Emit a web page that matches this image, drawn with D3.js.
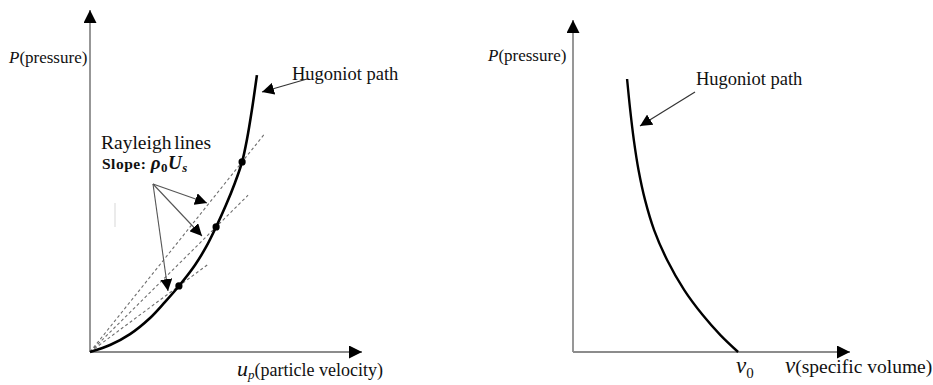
<!DOCTYPE html>
<html>
<head>
<meta charset="utf-8">
<script src="https://cdn.jsdelivr.net/npm/d3@7/dist/d3.min.js"></script>
<style>
  html, body { margin: 0; padding: 0; background: #fff; }
  svg { display: block; }
</style>
</head>
<body>
<svg id="chart" width="933" height="385"></svg>
<script>
// Hugoniot in the P–up plane (arbitrary units)
const upCurve = [0, 0.77, 1.54, 2.31, 2.88, 3.42, 4.04, 4.46, 4.85, 5.23, 5.58, 5.85, 6.04, 6.23, 6.42];
const pCurveUp = [0, 0.27, 0.69, 1.31, 1.92, 2.54, 3.35, 4.03, 4.81, 5.65, 6.52, 7.31, 8.19, 9.33, 10.65];

// Shocked states marked on the Hugoniot, and how far each Rayleigh line runs
const stateUp = [3.42, 4.85, 5.85];
const stateP = [2.54, 4.81, 7.31];
const rayEndUp = [4.54, 6.08, 6.73];

// Hugoniot in the P–v plane
const vCurve = [2.08, 2.2, 2.34, 2.52, 2.77, 3.12, 3.62, 4.28, 4.99, 5.67, 6.35];
const pCurveV = [10.5, 9.31, 8.15, 7.0, 5.85, 4.69, 3.54, 2.38, 1.42, 0.65, 0];
const v0 = 6.35;

const SERIF = "'Liberation Serif', 'Times New Roman', serif";
const svg = d3.select("#chart");

// arrowhead markers
const defs = svg.append("defs");
function marker(id, size) {
  defs.append("marker")
    .attr("id", id)
    .attr("viewBox", "0 0 10 10")
    .attr("refX", 10).attr("refY", 5)
    .attr("markerUnits", "userSpaceOnUse")
    .attr("markerWidth", size).attr("markerHeight", size)
    .attr("orient", "auto")
    .append("path").attr("d", "M0,0 L10,5 L0,10 Z").attr("fill", "#000");
}
marker("axisHead", 13);
marker("pointer", 12);

// text helper: parts = [[string, {attrs}], ...]
function label(g, x, y, size, parts) {
  const t = g.append("text")
    .attr("x", x).attr("y", y)
    .attr("font-family", SERIF).attr("font-size", size)
    .attr("fill", "#111");
  parts.forEach(([s, a]) => {
    const ts = t.append("tspan").text(s);
    Object.entries(a || {}).forEach(([k, v]) => ts.attr(k, v));
  });
  return t;
}

// ---------- left panel: P vs up ----------
const xL = d3.scaleLinear().domain([0, 10]).range([90, 350]);
const yL = d3.scaleLinear().domain([0, 12]).range([352, 40]);
const gL = svg.append("g");

gL.append("line")
  .attr("x1", xL(0)).attr("y1", yL(0)).attr("x2", xL(0)).attr("y2", 10)
  .attr("stroke", "#8c8c8c").attr("stroke-width", 1.8)
  .attr("marker-end", "url(#axisHead)");
gL.append("line")
  .attr("x1", xL(0)).attr("y1", yL(0)).attr("x2", 362).attr("y2", yL(0))
  .attr("stroke", "#8c8c8c").attr("stroke-width", 1.8)
  .attr("marker-end", "url(#axisHead)");

// Rayleigh lines from the origin through each state
gL.selectAll("line.ray")
  .data(stateUp.map((u, i) => ({ u, p: stateP[i], end: rayEndUp[i] })))
  .join("line").attr("class", "ray")
  .attr("x1", xL(0)).attr("y1", yL(0))
  .attr("x2", d => xL(d.end)).attr("y2", d => yL(d.p / d.u * d.end))
  .attr("stroke", "#6e6e6e").attr("stroke-width", 1.1)
  .attr("stroke-dasharray", "3,2.5");

const hugL = d3.line()
  .x((d, i) => xL(upCurve[i])).y(d => yL(d))
  .curve(d3.curveCatmullRom.alpha(0.5));
gL.append("path").attr("d", hugL(pCurveUp))
  .attr("fill", "none").attr("stroke", "#000").attr("stroke-width", 2.6);

gL.selectAll("circle.state")
  .data(stateUp)
  .join("circle").attr("class", "state")
  .attr("cx", d => xL(d)).attr("cy", (d, i) => yL(stateP[i]))
  .attr("r", 3.6).attr("fill", "#000");

// labels
label(gL, 9, 63, 17, [["P", { "font-style": "italic" }], ["(pressure)"]]);
label(gL, 292, 80, 18.5, [["Hugoniot path"]]);
gL.append("line")
  .attr("x1", 307).attr("y1", 79).attr("x2", 262).attr("y2", 92)
  .attr("stroke", "#333").attr("stroke-width", 1.2)
  .attr("marker-end", "url(#pointer)");

label(gL, 101, 149, 19.5, [["Rayleigh lines"]]).attr("word-spacing", -2);
label(gL, 102, 169, 15.5, [
  ["Slope: ", { "font-weight": "bold" }],
  ["ρ", { "font-weight": "bold", "font-style": "italic", "font-size": 19 }],
  ["0", { "font-weight": "bold", "font-size": 13, "dy": 3 }],
  ["U", { "font-weight": "bold", "font-style": "italic", "font-size": 19, "dy": -3 }],
  ["s", { "font-weight": "bold", "font-style": "italic", "font-size": 13, "dy": 3 }]
]).attr("letter-spacing", 0.5);

// pointers from the Rayleigh label to each line
const pointerTips = [[207, 203], [202, 236], [168, 291]];
gL.selectAll("line.ptr")
  .data(pointerTips)
  .join("line").attr("class", "ptr")
  .attr("x1", 153).attr("y1", 184)
  .attr("x2", d => d[0]).attr("y2", d => d[1])
  .attr("stroke", "#555").attr("stroke-width", 1.1)
  .attr("marker-end", "url(#pointer)");

gL.append("line").attr("x1", 115).attr("y1", 203).attr("x2", 115).attr("y2", 227)
  .attr("stroke", "#e4e4e4").attr("stroke-width", 1.5);

label(gL, 237, 376, 18, [
  ["u", { "font-style": "italic", "font-size": 22 }],
  ["p", { "font-style": "italic", "font-size": 13, "dy": 3 }],
  ["(particle velocity)", { "dy": -3 }]
]);

// ---------- right panel: P vs v ----------
const xR = d3.scaleLinear().domain([0, 10]).range([573, 833]);
const yR = d3.scaleLinear().domain([0, 12]).range([352, 40]);
const gR = svg.append("g");

gR.append("line")
  .attr("x1", xR(0)).attr("y1", yR(0)).attr("x2", xR(0)).attr("y2", 20)
  .attr("stroke", "#8c8c8c").attr("stroke-width", 1.8)
  .attr("marker-end", "url(#axisHead)");
gR.append("line")
  .attr("x1", xR(0)).attr("y1", yR(0)).attr("x2", 850).attr("y2", yR(0))
  .attr("stroke", "#8c8c8c").attr("stroke-width", 1.8)
  .attr("marker-end", "url(#axisHead)");

const hugR = d3.line()
  .x((d, i) => xR(vCurve[i])).y(d => yR(d))
  .curve(d3.curveCatmullRom.alpha(0.5));
gR.append("path").attr("d", hugR(pCurveV))
  .attr("fill", "none").attr("stroke", "#000").attr("stroke-width", 2.4);

label(gR, 488, 61, 17, [["P", { "font-style": "italic" }], ["(pressure)"]]);
label(gR, 696, 85, 18.5, [["Hugoniot path"]]);
gR.append("line")
  .attr("x1", 695).attr("y1", 92).attr("x2", 640).attr("y2", 126)
  .attr("stroke", "#333").attr("stroke-width", 1.2)
  .attr("marker-end", "url(#pointer)");

label(gR, xR(v0) - 2, 373, 23, [
  ["v", { "font-style": "italic" }],
  ["0", { "font-size": 15, "dy": 5 }]
]);
label(gR, 785, 373, 19.5, [
  ["v", { "font-style": "italic", "font-size": 23 }],
  ["(specific volume)"]
]);
</script>
</body>
</html>
